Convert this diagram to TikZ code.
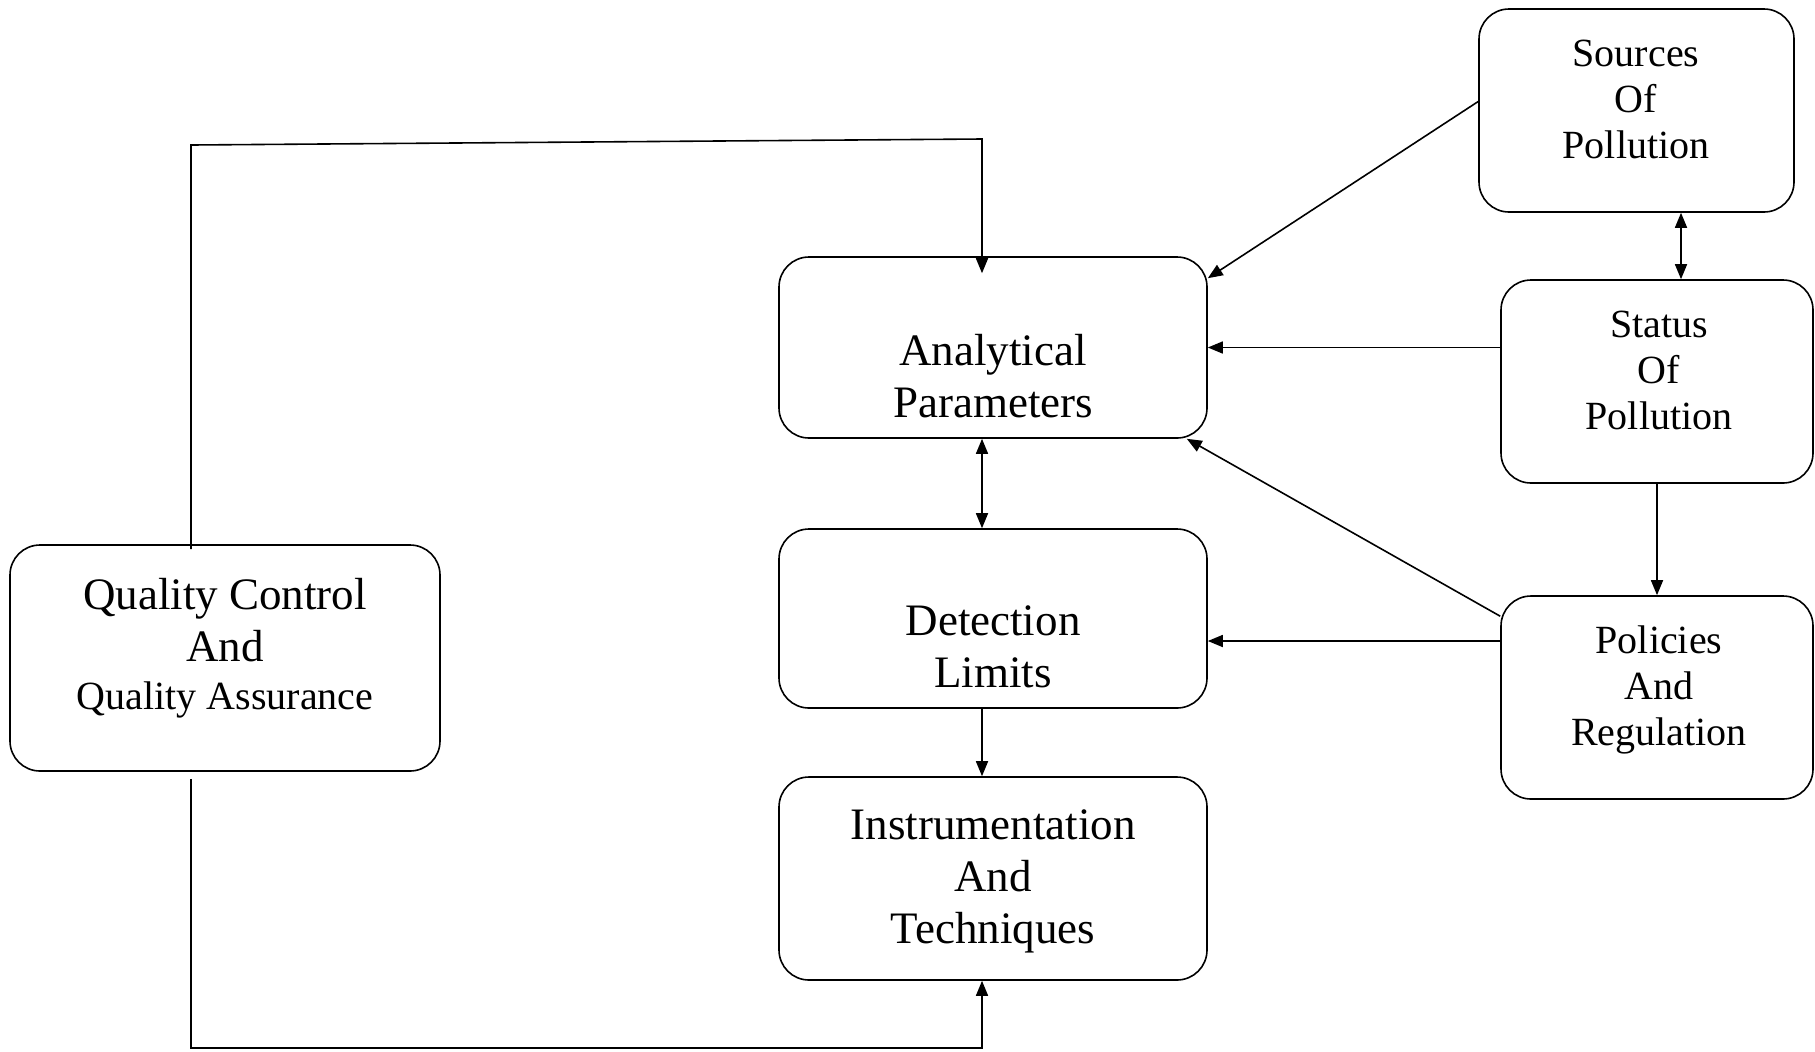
\documentclass[tikz,border=0pt]{standalone}
\usepackage{fontspec}
\setmainfont{Liberation Serif}
\usetikzlibrary{arrows.meta}

\begin{document}
\begin{tikzpicture}[x=0.5pt, y=-0.5pt,
        box/.style={draw, rounded corners=15pt, line width=0.8pt, inner sep=0pt},
        txt/.style={align=center, inner sep=0pt},
        big/.style={font=\fontsize{22.5}{26}\selectfont},
        small/.style={font=\fontsize{20}{23}\selectfont},
        arr/.style={line width=0.8pt, -{Triangle[length=7.5pt,width=6pt]}},
        arrs/.style={line width=0.8pt, {Triangle[length=7.5pt,width=6pt]}-{Triangle[length=7.5pt,width=6pt]}}]
    \useasboundingbox (0,0) rectangle (1815,1051);

    \node[box, minimum width=157.5pt, minimum height=101.5pt] (src) at (1636.5,110.5) {};
    \node[box, minimum width=156pt, minimum height=101.5pt] (st) at (1657,381.5) {};
    \node[box, minimum width=156pt, minimum height=101.5pt] (pol) at (1657,697.5) {};
    \node[box, minimum width=214pt, minimum height=90.5pt] (ap) at (993,347.5) {};
    \node[box, minimum width=214pt, minimum height=89.5pt] (det) at (993,618.5) {};
    \node[box, minimum width=214pt, minimum height=101.5pt] (inst) at (993,878.5) {};
    \node[box, minimum width=215pt, minimum height=113pt] (qc) at (225,658) {};

    \node[txt, small] (src-t) at (1636,99.5) {Sources\\Of\\Pollution};
    \node[txt, small] (st-t) at (1659,370.5) {Status\\Of\\Pollution};
    \node[txt, small] (pol-t) at (1659,690) {Policies\\And\\Regulation};
    \node[txt, big] (ap-t) at (993,376) {Analytical\\Parameters};
    \node[txt, big] (det-t) at (993,647) {Detection\\Limits};
    \node[txt, big] (inst-t) at (993,881.5) {Instrumentation\\And\\Techniques};
    \node[txt, big] (qc-t) at (225,648) {Quality Control\\And\\[-2pt]{\fontsize{20}{23}\selectfont Quality Assurance}};

    \coordinate (tl) at (191,145);
    \coordinate (tr) at (982,139);
    \coordinate (bl) at (191,1048);
    \coordinate (br) at (982,1048);

    \draw[arr] ([yshift=4.5pt]src.west) -- ([yshift=-11pt]ap.north east);
    \draw[arr] (ap.east -| st.west) -- (ap.east);
    \draw[arr] ([yshift=-10.5pt]pol.north west) -- ([xshift=-10.5pt]ap.south east);
    \draw[arr] ([yshift=-11.25pt]det.east -| pol.west) -- ([yshift=-11.25pt]det.east);
    \draw[arrs] ([xshift=12pt]st.north) -- ([xshift=12pt]st.north |- src.south);
    \draw[arr] (st.south) -- (pol.north);
    \draw[arrs] ([xshift=-5.5pt]ap.south) -- ([xshift=-5.5pt]det.north);
    \draw[arr] ([xshift=-5.5pt]det.south) -- ([xshift=-5.5pt]inst.north);
    \draw[arr] ([yshift=-2.5pt]qc.north -| tl) -- (tl) -- (tr) -- ([yshift=-8.5pt]ap.north -| tr);
    \draw[arr] ([yshift=-3.5pt]qc.south -| bl) -- (bl) -- (br) -- (inst.south -| br);
\end{tikzpicture}
\end{document}
